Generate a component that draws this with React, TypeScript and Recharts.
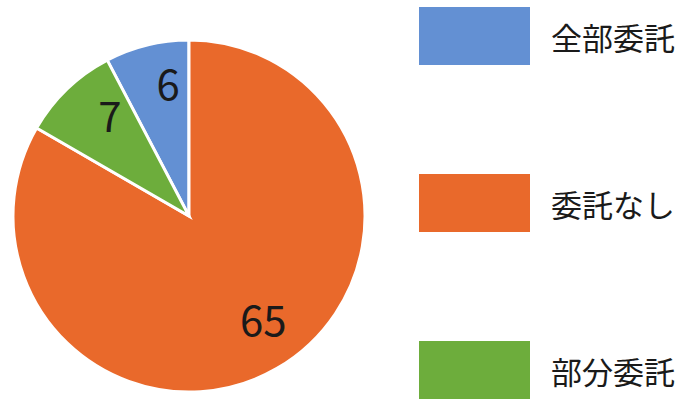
import { PieChart, Pie, Cell, Legend } from "recharts";

const categories = ["全部委託", "委託なし", "部分委託"];
const values = [6, 65, 7];
const colors = ["#6390d3", "#e9692b", "#6dad3c"];

const data = categories.map((name, i) => ({ name, value: values[i] }));
const total = values.reduce((s, v) => s + v, 0);
// first slice ends at 12 o'clock, slices run clockwise
const startAngle = 90 + (values[0] / total) * 360;

const RAD = Math.PI / 180;
const FONT = "'Noto Sans CJK JP', 'Noto Sans', sans-serif";

function renderLabel(props: any) {
  const { cx, cy, midAngle, outerRadius, value } = props;
  const r = outerRadius * 0.73;
  const x = cx + r * Math.cos(-midAngle * RAD);
  const y = cy + r * Math.sin(-midAngle * RAD);
  return (
    <text
      x={x}
      y={y}
      dx={10}
      dy={-10}
      fill="#1a1a1a"
      fontSize={42}
      fontFamily={FONT}
      textAnchor="middle"
      dominantBaseline="central"
    >
      {value}
    </text>
  );
}

function renderLegend() {
  return (
    <div style={{ fontFamily: FONT }}>
      {categories.map((name, i) => (
        <div key={name} style={{ display: "flex", alignItems: "center", height: 58, marginBottom: i < categories.length - 1 ? 109 : 0 }}>
          <div style={{ width: 111, height: 58, background: colors[i] }} />
          <span style={{ marginLeft: 21, fontSize: 31, color: "#1a1a1a", lineHeight: 1 }}>{name}</span>
        </div>
      ))}
    </div>
  );
}

export default function App() {
  return (
    <div style={{ position: "absolute", left: 0, top: 0, width: 692, height: 403, background: "#fff" }}>
      <PieChart width={692} height={403} margin={{ top: 0, right: 0, bottom: 0, left: 0 }}>
        <Pie
          data={data}
          dataKey="value"
          nameKey="name"
          cx={189}
          cy={216}
          outerRadius={176}
          startAngle={startAngle}
          endAngle={startAngle - 360}
          stroke="#ffffff"
          strokeWidth={3}
          label={renderLabel}
          labelLine={false}
          isAnimationActive={false}
        >
          {data.map((d, i) => (
            <Cell key={d.name} fill={colors[i]} />
          ))}
        </Pie>
        <Legend
          layout="vertical"
          verticalAlign="top"
          align="right"
          content={renderLegend}
          wrapperStyle={{ left: 419, top: 7, width: 273 }}
        />
      </PieChart>
    </div>
  );
}
